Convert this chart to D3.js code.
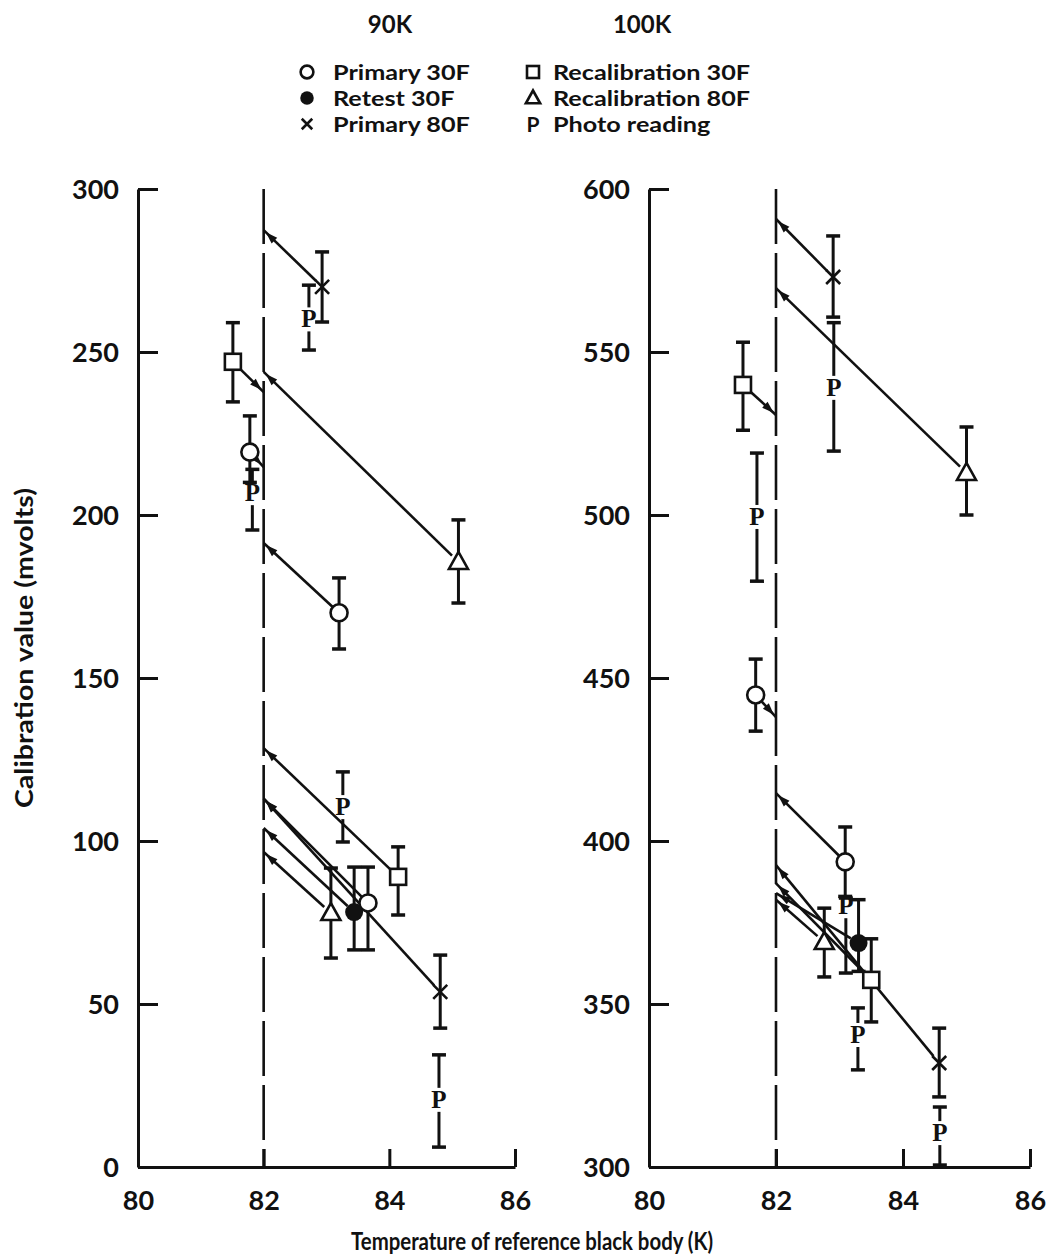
<!DOCTYPE html>
<html>
<head>
<meta charset="utf-8">
<script src="https://cdn.jsdelivr.net/npm/d3@7"></script>
<style>
  body { margin: 0; background: #fff; }
  svg { display: block; }
  text { font-family: Lato, "DejaVu Sans", sans-serif; font-weight: 700; fill: #111; }
  .axis path, .axis line { stroke: #111; stroke-width: 3; }
  .axis text { font-size: 27px; font-family: Lato, sans-serif; font-weight: 700; fill: #111; }
  .photo { font-family: "Liberation Serif", serif; font-weight: 700; font-size: 25px; }
</style>
</head>
<body>
<svg width="1050" height="1260"></svg>
<script>
// panel titles, axis ticks
const panelNames = ["90K", "100K"];
const xTicks = [80, 82, 84, 86];
const yTicks90 = [0, 50, 100, 150, 200, 250, 300];
const yTicks100 = [300, 350, 400, 450, 500, 550, 600];
const refTemp = 82;

// legend
const legendLabels = ["Primary 30F", "Retest 30F", "Primary 80F", "Recalibration 30F", "Recalibration 80F", "Photo reading"];

// 90K data: t = temperature, v = value, lo/hi = error bar, end = value extrapolated to 82K
const primary30_90 = [
  {t: 81.78, v: 219.3, lo: 210, hi: 230.4, end: 214.7},
  {t: 83.2, v: 170.0, lo: 158.9, hi: 180.7, end: 191.4},
  {t: 83.66, v: 81.0, lo: 66.6, hi: 92.0, end: 113.0}
];
const retest30_90 = [
  {t: 83.44, v: 78.2, lo: 66.6, hi: 92.0, end: 104.0}
];
const primary80_90 = [
  {t: 82.93, v: 270.0, lo: 259.2, hi: 280.7, end: 287.4},
  {t: 84.81, v: 53.7, lo: 42.6, hi: 65.0, end: 113.0}
];
const recal30_90 = [
  {t: 81.51, v: 247.0, lo: 234.7, hi: 259.0, end: 237.7},
  {t: 84.14, v: 89.0, lo: 77.3, hi: 98.2, end: 128.5}
];
const recal80_90 = [
  {t: 85.1, v: 185.6, lo: 173.0, hi: 198.5, end: 243.9},
  {t: 83.07, v: 77.9, lo: 64.1, hi: 91.7, end: 96.6}
];
const photo_90 = [
  {t: 82.72, v: 260.0, lo: 250.6, hi: 270.5},
  {t: 81.82, v: 206.7, lo: 195.4, hi: 214.0},
  {t: 83.26, v: 110.4, lo: 99.7, hi: 121.2},
  {t: 84.79, v: 20.6, lo: 6.1, hi: 34.4}
];

// 100K data
const primary30_100 = [
  {t: 81.68, v: 444.8, lo: 433.7, hi: 455.8, end: 438.0},
  {t: 83.09, v: 393.6, lo: 383.0, hi: 404.3, end: 414.7}
];
const retest30_100 = [
  {t: 83.3, v: 368.7, lo: 360.0, hi: 382.0, end: 384.0}
];
const primary80_100 = [
  {t: 82.9, v: 573.0, lo: 560.7, hi: 585.6, end: 590.8},
  {t: 84.57, v: 331.9, lo: 321.5, hi: 342.6, end: 392.6}
];
const recal30_100 = [
  {t: 81.48, v: 539.9, lo: 526.0, hi: 553.0, end: 530.7},
  {t: 83.5, v: 357.4, lo: 344.5, hi: 370.0, end: 387.0}
];
const recal80_100 = [
  {t: 85.0, v: 512.9, lo: 500.0, hi: 527.0, end: 569.6},
  {t: 82.76, v: 369.0, lo: 358.3, hi: 379.4, end: 382.0}
];
const photo_100 = [
  {t: 82.91, v: 539.0, lo: 519.6, hi: 559.0},
  {t: 81.7, v: 499.4, lo: 479.7, hi: 519.0},
  {t: 83.1, v: 380.0, lo: 359.5, hi: 382.5},
  {t: 83.29, v: 340.5, lo: 329.8, hi: 348.8},
  {t: 84.58, v: 310.4, lo: 300.6, hi: 318.4}
];

const svg = d3.select("svg");
const plotTop = 189, plotBottom = 1167;

var drawSymbol = function(g, kind, x, y, s) {
  // s = scale, 1 for plot, smaller in legend
  if (kind == "circle") {
    g.append("circle").attr("cx", x).attr("cy", y).attr("r", 8.5 * s)
      .attr("fill", "#fff").attr("stroke", "#111").attr("stroke-width", 2.6);
  } else if (kind == "dot") {
    g.append("circle").attr("cx", x).attr("cy", y).attr("r", 9 * s).attr("fill", "#111");
  } else if (kind == "x") {
    const r = 7 * s;
    g.append("path").attr("d", `M${x - r},${y - r}L${x + r},${y + r}M${x - r},${y + r}L${x + r},${y - r}`)
      .attr("stroke", "#111").attr("stroke-width", 2.6);
  } else if (kind == "square") {
    const r = 8 * s;
    g.append("rect").attr("x", x - r).attr("y", y - r).attr("width", 2 * r).attr("height", 2 * r)
      .attr("fill", "#fff").attr("stroke", "#111").attr("stroke-width", 2.6);
  } else if (kind == "triangle") {
    const r = 10 * s;
    g.append("path").attr("d", `M${x},${y - r}L${x + r * 0.95},${y + r * 0.7}L${x - r * 0.95},${y + r * 0.7}Z`)
      .attr("fill", "#fff").attr("stroke", "#111").attr("stroke-width", 2.6);
  }
}

var errorBar = function(g, x, y1, y2) {
  g.append("line").attr("x1", x).attr("x2", x).attr("y1", y1).attr("y2", y2)
    .attr("stroke", "#111").attr("stroke-width", 3);
}
var cap = function(g, x, y) {
  g.append("line").attr("x1", x - 7).attr("x2", x + 7).attr("y1", y).attr("y2", y)
    .attr("stroke", "#111").attr("stroke-width", 3.5);
}

var drawPanel = function(name, x0, x1, yTicks, series, photos) {
  const xScale = d3.scaleLinear().domain([80, 86]).range([x0, x1]);
  const yScale = d3.scaleLinear().domain([yTicks[0], yTicks[yTicks.length - 1]]).range([plotBottom, plotTop]);
  const g = svg.append("g");

  // axes, ticks inward
  g.append("g").attr("class", "axis")
    .attr("transform", `translate(${x0},0)`)
    .call(d3.axisLeft(yScale).tickValues(yTicks).tickSize(-20).tickSizeOuter(0).tickPadding(19))
    .call(a => a.selectAll("text").attr("dy", "0.36em"));

  g.append("g").attr("class", "axis")
    .attr("transform", `translate(0,${plotBottom})`)
    .call(d3.axisBottom(xScale).tickValues(xTicks).tickFormat(d3.format("d"))
      .tickSize(-18).tickSizeOuter(0).tickPadding(24));

  // dashed reference line at 82K
  g.append("line")
    .attr("x1", xScale(refTemp)).attr("x2", xScale(refTemp))
    .attr("y1", plotTop).attr("y2", plotBottom)
    .attr("stroke", "#111").attr("stroke-width", 2.6)
    .attr("stroke-dasharray", "55,9");

  // extrapolation arrows
  series.forEach(s => {
    s.data.forEach(d => {
      const px = xScale(d.t), py = yScale(d.v);
      const ex = xScale(refTemp), ey = yScale(d.end);
      const len = Math.hypot(ex - px, ey - py);
      const ux = (ex - px) / len, uy = (ey - py) / len;
      const sx = px + ux * 9, sy = py + uy * 9;
      g.append("line").attr("x1", sx).attr("y1", sy).attr("x2", ex).attr("y2", ey)
        .attr("stroke", "#111").attr("stroke-width", 2.6);
      // arrowhead near the 82K end
      const tx = ex - ux * 3, ty = ey - uy * 3;
      const bx = tx - ux * 12, by = ty - uy * 12;
      g.append("path")
        .attr("d", `M${tx},${ty}L${bx - uy * 4},${by + ux * 4}L${bx + uy * 4},${by - ux * 4}Z`)
        .attr("fill", "#111");
    });
  });

  // error bars
  series.forEach(s => {
    s.data.forEach(d => {
      const px = xScale(d.t);
      errorBar(g, px, yScale(d.hi), yScale(d.lo));
      cap(g, px, yScale(d.hi));
      cap(g, px, yScale(d.lo));
    });
  });

  // photo readings: bar broken around the P
  photos.forEach(d => {
    const px = xScale(d.t), py = yScale(d.v);
    const yh = yScale(d.hi), yl = yScale(d.lo);
    if (py - 12 > yh) errorBar(g, px, yh, py - 12);
    if (py + 12 < yl) errorBar(g, px, py + 12, yl);
    cap(g, px, yh);
    cap(g, px, yl);
    g.append("text").attr("class", "photo")
      .attr("x", px).attr("y", py + 8)
      .attr("text-anchor", "middle")
      .text("P");
  });

  // markers
  series.forEach(s => {
    s.data.forEach(d => drawSymbol(g, s.kind, xScale(d.t), yScale(d.v), 1));
  });
}

drawPanel(panelNames[0], 138, 515, yTicks90, [
  {kind: "circle", data: primary30_90},
  {kind: "dot", data: retest30_90},
  {kind: "x", data: primary80_90},
  {kind: "square", data: recal30_90},
  {kind: "triangle", data: recal80_90}
], photo_90);

drawPanel(panelNames[1], 649, 1030, yTicks100, [
  {kind: "circle", data: primary30_100},
  {kind: "dot", data: retest30_100},
  {kind: "x", data: primary80_100},
  {kind: "square", data: recal30_100},
  {kind: "triangle", data: recal80_100}
], photo_100);

// panel titles
svg.append("text").attr("x", 390).attr("y", 33).attr("text-anchor", "middle")
  .style("font-size", "24px").text(panelNames[0]);
svg.append("text").attr("x", 642).attr("y", 33).attr("text-anchor", "middle")
  .style("font-size", "24px").text(panelNames[1]);

// legend (rows are tight, so a smaller font stretched to the original width)
const legendKinds = ["circle", "dot", "x", "square", "triangle", "P"];
const legend = svg.append("g");
legendLabels.forEach((label, i) => {
  const col = Math.floor(i / 3), row = i % 3;
  const sx = col == 0 ? 307 : 533;
  const tx = col == 0 ? 333 : 553;
  const by = 80 + row * 26;
  if (legendKinds[i] == "P") {
    legend.append("text").attr("x", sx).attr("y", by).attr("text-anchor", "middle")
      .style("font-size", "21px").text("P");
  } else {
    drawSymbol(legend, legendKinds[i], sx, by - 8, 0.75);
  }
  const t = legend.append("text").attr("x", tx).attr("y", by).style("font-size", "21px").text(label);
  const w = t.node().getComputedTextLength();
  t.attr("textLength", w * 1.2).attr("lengthAdjust", "spacingAndGlyphs");
});

// axis titles
svg.append("text").attr("x", 532).attr("y", 1250).attr("text-anchor", "middle")
  .attr("textLength", 362).attr("lengthAdjust", "spacingAndGlyphs")
  .style("font-size", "24px").text("Temperature of reference black body (K)");
svg.append("text").attr("transform", "translate(33,648) rotate(-90)")
  .attr("text-anchor", "middle")
  .attr("textLength", 320).attr("lengthAdjust", "spacingAndGlyphs")
  .style("font-size", "24px").text("Calibration value (mvolts)");
</script>
</body>
</html>
